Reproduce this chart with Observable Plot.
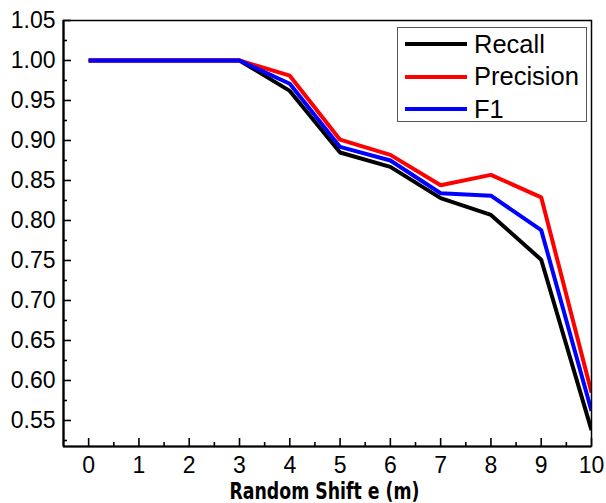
<!DOCTYPE html>
<html>
<head>
<meta charset="utf-8">
<script src="https://cdn.jsdelivr.net/npm/d3@7"></script>
<script src="https://cdn.jsdelivr.net/npm/@observablehq/plot@0.6"></script>
<style>
  html, body { margin: 0; padding: 0; background: #fff; }
  #wrap { position: relative; width: 606px; height: 503px; }
  #legend {
    position: absolute; left: 397px; top: 27px; width: 190px; height: 95px;
    border: 1px solid #555; background: #fff; box-sizing: border-box;
    font-family: "Liberation Sans", Arial, sans-serif; font-size: 25.5px; color: #000;
    padding-top: 0px;
  }
  .item { display: flex; align-items: center; height: 32.5px; }
  .swatch { width: 62px; height: 4px; margin-left: 7px; margin-right: 7px; }
</style>
</head>
<body>
<div id="wrap"></div>
<script>
const shifts = [0, 1, 2, 3, 4, 5, 6, 7, 8, 9, 10];
const seriesNames = ["Recall", "Precision", "F1"];
const seriesColors = ["#000000", "#ff0000", "#0000ff"];
const recall    = [1.0, 1.0, 1.0, 1.0, 0.962, 0.885, 0.867, 0.828, 0.807, 0.751, 0.538];
const precision = [1.0, 1.0, 1.0, 1.0, 0.981, 0.901, 0.882, 0.844, 0.857, 0.829, 0.585];
const f1        = [1.0, 1.0, 1.0, 1.0, 0.971, 0.892, 0.875, 0.834, 0.831, 0.788, 0.562];
const xTicks = [0, 1, 2, 3, 4, 5, 6, 7, 8, 9, 10];
const xMinor = [0.5, 1.5, 2.5, 3.5, 4.5, 5.5, 6.5, 7.5, 8.5, 9.5];
const yTicks = [0.55, 0.60, 0.65, 0.70, 0.75, 0.80, 0.85, 0.90, 0.95, 1.00, 1.05];
const yMinor = [0.525, 0.575, 0.625, 0.675, 0.725, 0.775, 0.825, 0.875, 0.925, 0.975, 1.025];
const xDomain = [-0.5, 10];
const yDomain = [0.5175, 1.05];
const xTitle = "Random Shift e (m)";

const valuesBySeries = [recall, precision, f1];
const data = seriesNames.flatMap((s, i) => shifts.map((x, j) => ({series: s, x, y: valuesBySeries[i][j]})));

const font = "Liberation Sans, Arial, sans-serif";

const chart = Plot.plot({
  width: 606,
  height: 503,
  marginLeft: 63,
  marginRight: 15,
  marginTop: 20,
  marginBottom: 57,
  style: {fontFamily: font, background: "#fff", color: "#000"},
  x: {domain: xDomain},
  y: {domain: yDomain},
  color: {domain: seriesNames, range: seriesColors},
  marks: [
    Plot.line(data, {x: "x", y: "y", z: "series", stroke: "series", strokeWidth: 4,
      strokeLinejoin: "miter", strokeLinecap: "butt", clip: true}),
    Plot.frame({stroke: "#000", strokeWidth: 1.5}),
    Plot.ruleX([xDomain[0]], {stroke: "#000", strokeWidth: 2.2}),
    Plot.ruleY([yDomain[0]], {stroke: "#000", strokeWidth: 2.2}),
    Plot.axisX(xTicks, {tickSize: -8, strokeWidth: 1.6, tickFormat: () => "", label: null}),
    Plot.axisX(xMinor, {tickSize: -4, strokeWidth: 1.6, tickFormat: () => "", label: null}),
    Plot.axisX(xTicks, {tickSize: 0, tickPadding: 10, fontSize: 23, fontFamily: font, label: null, fill: "#000"}),
    Plot.axisY(yTicks, {tickSize: -8, strokeWidth: 1.6, tickFormat: () => "", label: null}),
    Plot.axisY(yMinor, {tickSize: -4, strokeWidth: 1.6, tickFormat: () => "", label: null}),
    Plot.axisY(yTicks, {tickSize: 0, tickPadding: 8, fontSize: 23, fontFamily: font, label: null,
      tickFormat: d3.format(".2f"), fill: "#000"}),
    Plot.text([xTitle], {text: d => d, frameAnchor: "bottom", lineAnchor: "bottom", dy: 52, dx: -3,
      fontSize: 23, fontWeight: "bold",
      fontFamily: "DejaVu Sans Condensed, Liberation Sans Narrow, Arial Narrow, sans-serif", fill: "#000"})
  ]
});

const wrap = document.getElementById("wrap");
wrap.appendChild(chart);

// fit the condensed axis title to the width it has in the reference
chart.querySelectorAll("text").forEach(t => {
  if (t.textContent === xTitle) {
    t.setAttribute("textLength", "190");
    t.setAttribute("lengthAdjust", "spacingAndGlyphs");
    t.style.fontStretch = "condensed";
  }
});

const legend = document.createElement("div");
legend.id = "legend";
seriesNames.forEach((name, i) => {
  const item = document.createElement("div");
  item.className = "item";
  const sw = document.createElement("div");
  sw.className = "swatch";
  sw.style.background = seriesColors[i];
  const label = document.createElement("span");
  label.textContent = name;
  item.appendChild(sw);
  item.appendChild(label);
  legend.appendChild(item);
});
wrap.appendChild(legend);
</script>
</body>
</html>
